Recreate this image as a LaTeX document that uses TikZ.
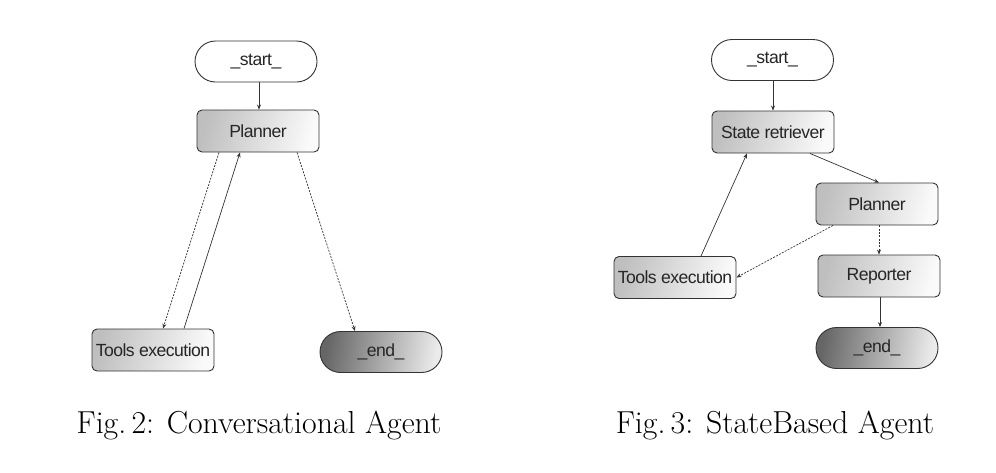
\documentclass[tikz,border=0pt]{standalone}
\usepackage{fontspec}
\newfontfamily\nodefont{Liberation Sans}[LetterSpace=-3]
\usetikzlibrary{arrows.meta}
\definecolor{edgecol}{HTML}{333333}
\tikzset{
  box/.style={draw=edgecol, line width=0.9pt, rounded corners=5pt, minimum width=122pt, minimum height=42pt,
    inner sep=0pt, font=\nodefont\fontsize{17.6}{20}\selectfont, text=black!85,
    left color=black!25, right color=black!2, shading angle=75},
  term/.style={draw=edgecol, line width=0.9pt, rounded corners=20.5pt, minimum width=122pt, minimum height=41pt,
    inner sep=0pt, font=\nodefont\fontsize{17.6}{20}\selectfont, text=black!85},
  startnode/.style={term, fill=white},
  endnode/.style={term, left color=black!60, right color=black!8, shading angle=80},
  arr/.style={-{Stealth[length=5pt,width=4pt]}, line width=0.7pt, draw=edgecol},
  darr/.style={arr, dash pattern=on 2pt off 1.3pt},
  figcap/.style={font=\fontsize{31.8}{38}\selectfont, anchor=base}
}
\begin{document}
\begin{tikzpicture}[x=1pt,y=-1pt]
\useasboundingbox (0,0) rectangle (996,472);
% Fig 2
\node[startnode] (s1) at (256,61.5) {\_start\_};
\node[box] (p1) at (258,131) {Planner};
\node[box] (t1) at (153,350) {Tools execution};
\node[endnode] (e1) at (381,352) {\_end\_};
\draw[arr] (s1.south -| 259,0) -- (p1.north -| 259,0);
\draw[darr] (p1.south -| 219,0) -- ([xshift=10pt]t1.north);
\draw[arr] ([xshift=31pt]t1.north) -- (p1.south -| 240,0);
\draw[darr] (p1.south -| 297,0) -- ([xshift=-26pt]e1.north);
\node[figcap] (c1) at (259,433) {Fig.\,2: Conversational Agent};
% Fig 3
\node[startnode] (s2) at (772.5,60) {\_start\_};
\node[box] (r2) at (773,132) {State retriever};
\node[box] (p2) at (877,204) {Planner};
\node[box] (rp2) at (879,276) {Reporter};
\node[box] (t2) at (675,277.5) {Tools execution};
\node[endnode] (e2) at (877,348) {\_end\_};
\draw[arr] (s2.south -| 773,0) -- (r2.north -| 773,0);
\draw[arr] (r2.south -| 810,0) -- (p2.north -| 879,0);
\draw[arr] (t2.north -| 701,0) -- (r2.south -| 747,0);
\draw[darr] (p2.south -| 833,0) -- (t2.east);
\draw[darr] (p2.south -| 879,0) -- (rp2.north -| 879,0);
\draw[arr] (rp2.south -| 880,0) -- (e2.north -| 880,0);
\node[figcap] (c2) at (775,433) {Fig.\,3: StateBased Agent};
\end{tikzpicture}
\end{document}
